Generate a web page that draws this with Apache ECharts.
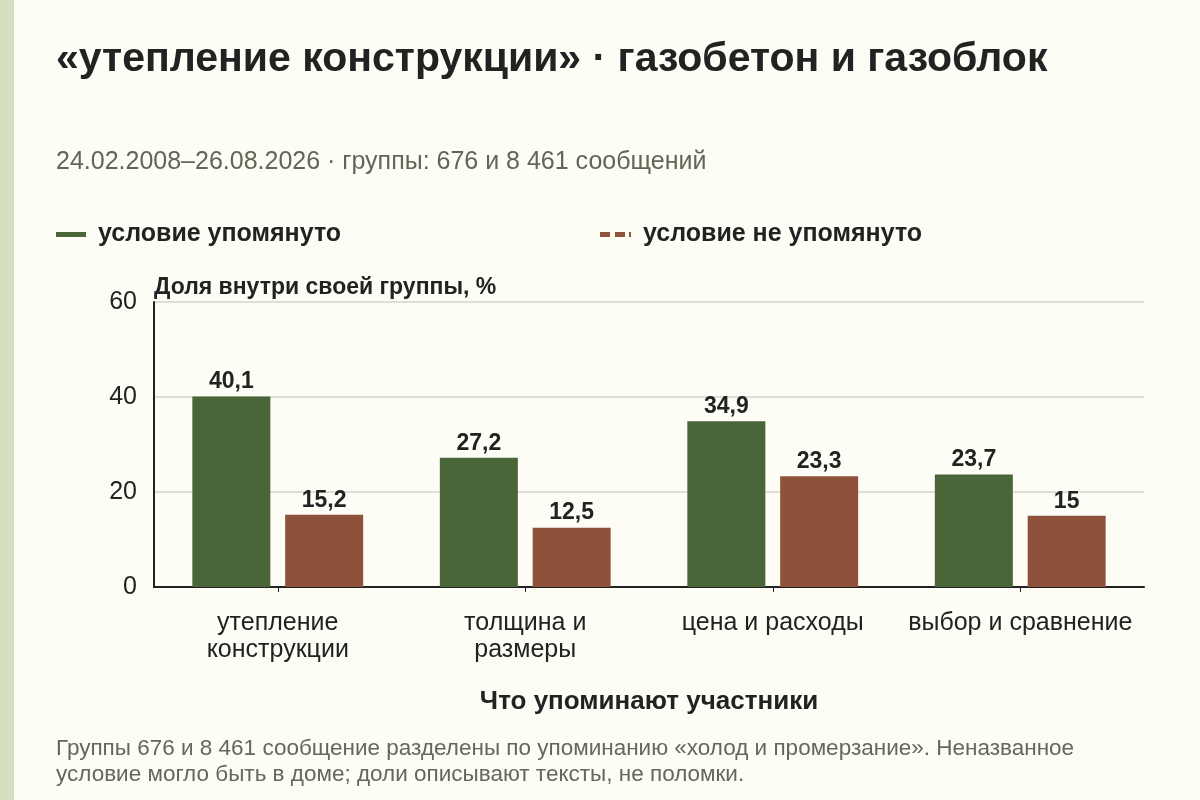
<!DOCTYPE html>
<html><head><meta charset="utf-8">
<script src="https://cdn.jsdelivr.net/npm/echarts@6/dist/echarts.min.js"></script>
<style>html,body{margin:0;padding:0;background:#fdfcf5;}#c{width:1200px;height:800px;}</style>
</head><body><div id="c"></div>
<script>
const categories = ['утепление\nконструкции', 'толщина и\nразмеры', 'цена и расходы', 'выбор и сравнение'];
const mentioned = [40.1, 27.2, 34.9, 23.7];
const notMentioned = [15.2, 12.5, 23.3, 15];
const yTicks = {min: 0, max: 60, interval: 20};
const seriesNames = ['условие упомянуто', 'условие не упомянуто'];

const chart = echarts.init(document.getElementById('c'));
const font = '"Liberation Sans", Arial, sans-serif';
const fmt = v => String(v).replace('.', ',');
chart.setOption({
  backgroundColor: '#fdfcf5',
  textStyle: {fontFamily: font},
  graphic: [{type: 'rect', left: 0, top: 0, shape: {width: 14, height: 800}, style: {fill: '#d3dfc0'}}],
  title: [
    {text: '«утепление конструкции» · газобетон и газоблок', left: 51, top: 34,
     textStyle: {fontSize: 41, fontWeight: 'bold', color: '#222', fontFamily: font}},
    {text: '24.02.2008–26.08.2026 · группы: 676 и 8 461 сообщений', left: 51, top: 145,
     textStyle: {fontSize: 25, fontWeight: 'normal', color: '#626656', fontFamily: font}},
    {text: 'Группы 676 и 8 461 сообщение разделены по упоминанию «холод и промерзание». Неназванное\nусловие могло быть в доме; доли описывают тексты, не поломки.', left: 51, top: 731,
     textStyle: {fontSize: 22.5, fontWeight: 'normal', color: '#66665c', lineHeight: 26, fontFamily: font}}
  ],
  legend: [
    {data: [seriesNames[0]], left: 51, top: 217, itemWidth: 30, itemHeight: 5,
     icon: 'path://M0,0h30v5h-30z',
     textStyle: {fontSize: 25, fontWeight: 'bold', color: '#222', padding: [0,0,0,7]}},
    {data: [seriesNames[1]], left: 595, top: 217, itemWidth: 31, itemHeight: 5,
     icon: 'path://M0,0h10v5h-10zM15,0h10v5h-10zM29,0h2v5h-2z',
     textStyle: {fontSize: 25, fontWeight: 'bold', color: '#222', padding: [0,0,0,7]}}
  ],
  grid: {left: 154, right: 56, top: 302, bottom: 213},
  xAxis: {
    type: 'category', data: categories,
    name: 'Что упоминают участники', nameLocation: 'middle', nameGap: 102,
    nameTextStyle: {fontSize: 26, fontWeight: 'bold', color: '#222'},
    axisLine: {lineStyle: {color: '#222', width: 2}},
    axisTick: {show: true, alignWithLabel: true, length: 5, lineStyle: {color: '#222'}},
    axisLabel: {fontSize: 25, color: '#222', lineHeight: 27, margin: 23, interval: 0}
  },
  yAxis: {
    type: 'value', min: yTicks.min, max: yTicks.max, interval: yTicks.interval,
    name: 'Доля внутри своей группы, %', nameLocation: 'end', nameGap: 3,
    nameTextStyle: {fontSize: 23, fontWeight: 'bold', color: '#222', align: 'left'},
    axisLine: {show: true, lineStyle: {color: '#222', width: 2}},
    axisTick: {show: false},
    axisLabel: {fontSize: 25, color: '#222', margin: 17},
    splitLine: {lineStyle: {color: '#d4d4cc', width: 1.5}}
  },
  series: [
    {name: seriesNames[0], type: 'bar', data: mentioned, barWidth: 78, barGap: '19%',
     itemStyle: {color: '#4a6538'},
     label: {show: true, position: 'top', distance: 3, fontSize: 23, fontWeight: 'bold', color: '#222', formatter: p => fmt(p.value)}},
    {name: seriesNames[1], type: 'bar', data: notMentioned, barWidth: 78,
     itemStyle: {color: '#8e523a'},
     label: {show: true, position: 'top', distance: 3, fontSize: 23, fontWeight: 'bold', color: '#222', formatter: p => fmt(p.value)}}
  ]
});
</script></body></html>
